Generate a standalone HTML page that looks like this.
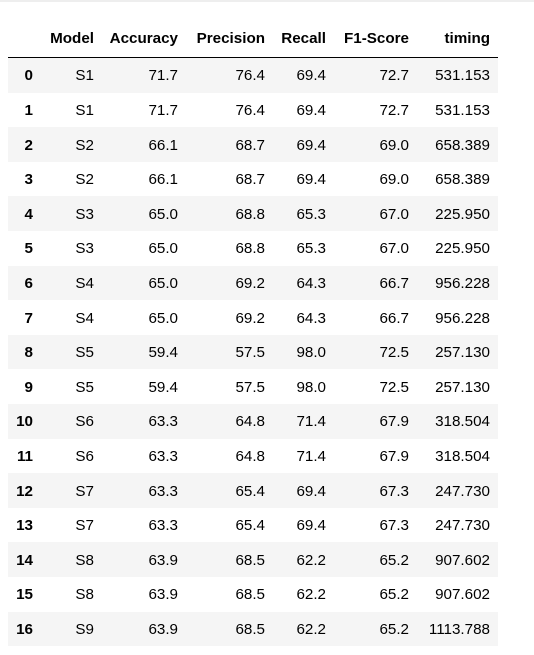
<!DOCTYPE html>
<html><head><meta charset="utf-8"><style>
body{margin:0;width:534px;height:655px;background:#fff;font-family:"Liberation Sans",Arial,sans-serif;font-size:15.2px;color:#000;position:relative;overflow:hidden}
.topband{position:absolute;left:0;top:0;width:534px;height:2px;background:#eee}
.c{position:absolute;white-space:nowrap;text-align:right;line-height:18px}
.row{position:absolute;left:8px;width:490px}
.hdr{font-weight:bold}
.hline{position:absolute;left:8px;width:490px;height:1px;background:#000;top:57px}
</style></head><body>
<div class="topband"></div>
<div id="t"></div>
<script>
const headers=["Model","Accuracy","Precision","Recall","F1-Score","timing"];
const models=["S1","S1","S2","S2","S3","S3","S4","S4","S5","S5","S6","S6","S7","S7","S8","S8","S9"];
const accuracy=["71.7","71.7","66.1","66.1","65.0","65.0","65.0","65.0","59.4","59.4","63.3","63.3","63.3","63.3","63.9","63.9","63.9"];
const precision=["76.4","76.4","68.7","68.7","68.8","68.8","69.2","69.2","57.5","57.5","64.8","64.8","65.4","65.4","68.5","68.5","68.5"];
const recall=["69.4","69.4","69.4","69.4","65.3","65.3","64.3","64.3","98.0","98.0","71.4","71.4","69.4","69.4","62.2","62.2","62.2"];
const f1=["72.7","72.7","69.0","69.0","67.0","67.0","66.7","66.7","72.5","72.5","67.9","67.9","67.3","67.3","65.2","65.2","65.2"];
const timing=["531.153","531.153","658.389","658.389","225.950","225.950","956.228","956.228","257.130","257.130","318.504","318.504","247.730","247.730","907.602","907.602","1113.788"];
const rights=[94,178,265,326,409,490];
const t=document.getElementById('t');
function cell(txt,right,cy,bold,name){
  const d=document.createElement('div');
  d.className='c'+(bold?' hdr':'');
  d.style.right=(534-right)+'px';
  d.style.top=(cy-8)+'px';
  d.textContent=txt;
  
  
  t.appendChild(d);
}
headers.forEach((h,i)=>cell(h,rights[i],38,true,'header-'+h.toLowerCase()));
const hl=document.createElement('div');hl.className='hline';


t.appendChild(hl);
const rowH=34.6, top0=58;
const cols=[models,accuracy,precision,recall,f1,timing];
for(let r=0;r<models.length;r++){
  const y=top0+r*rowH;
  const bg=document.createElement('div');bg.className='row';
  bg.style.top=y+'px';bg.style.height=rowH+'px';
  bg.style.background=r%2===0?'#f5f5f5':'#fff';
  
  
  t.appendChild(bg);
  const cy=y+rowH/2;
  cell(String(r),33,cy,true,'row-index');
  cols.forEach((c,i)=>cell(c[r],rights[i],cy,false,'cell-'+headers[i].toLowerCase()));
}
</script>
</body></html>
